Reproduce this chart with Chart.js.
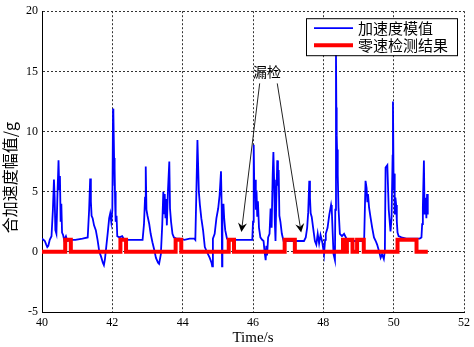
<!DOCTYPE html>
<html>
<head>
<meta charset="utf-8">
<script src="https://cdn.jsdelivr.net/npm/chart.js@4/dist/chart.umd.min.js"></script>
<style>
  body { margin: 0; background: #fff; }
  canvas { display: block; }
</style>
</head>
<body>
<canvas id="accel_chart" width="474" height="347"></canvas>
<script>
// data

const accelTime = [
  40.00, 40.04, 40.08, 40.12, 40.15, 40.18, 40.22, 40.27, 40.31, 40.34, 40.36, 40.38, 40.41, 40.44, 40.47, 40.49,
  40.51, 40.53, 40.55, 40.57, 40.60, 40.63, 40.68, 40.72, 40.80, 40.95, 41.15, 41.30, 41.34, 41.37, 41.39, 41.41,
  41.44, 41.48, 41.53, 41.58, 41.63, 41.68, 41.73, 41.76, 41.79, 41.83, 41.87, 41.91, 41.94, 41.97, 42.00, 42.02,
  42.03, 42.05, 42.06, 42.07, 42.08, 42.09, 42.10, 42.12, 42.14,
  42.20, 42.28, 42.34, 42.50, 42.70, 42.86, 42.90, 42.93, 42.95, 42.97, 43.00, 43.05, 43.09, 43.14, 43.19, 43.24,
  43.30, 43.33, 43.38, 43.42, 43.45, 43.47, 43.49, 43.51, 43.53, 43.55, 43.58, 43.62, 43.64, 43.67, 43.71, 43.75,
  43.82, 43.92, 44.05,
  44.20, 44.33, 44.36, 44.39, 44.42, 44.46, 44.49, 44.53, 44.58, 44.63, 44.72, 44.77, 44.82, 44.84, 44.86, 44.91,
  44.96, 45.01, 45.05, 45.09, 45.11, 45.12, 45.13, 45.16, 45.18, 45.21, 45.26, 45.32, 45.50, 45.70, 45.98,
  46.00, 46.02, 46.04, 46.06, 46.08, 46.10, 46.12, 46.14, 46.17, 46.21, 46.26, 46.30, 46.33, 46.36, 46.38, 46.40,
  46.43, 46.47, 46.50, 46.53, 46.56, 46.58, 46.60, 46.62, 46.64, 46.66, 46.69, 46.71, 46.73, 46.75, 46.78, 46.82,
  46.87, 47.10, 47.34, 47.45, 47.50, 47.54, 47.57, 47.60, 47.62, 47.64, 47.67, 47.71, 47.76, 47.80, 47.84, 47.88,
  47.92, 47.97, 48.02, 48.05,
  48.07, 48.12, 48.17, 48.22, 48.24, 48.26, 48.29, 48.33, 48.34, 48.36, 48.37, 48.38, 48.39, 48.41, 48.43, 48.47,
  48.53, 48.59, 48.69, 48.83, 49.00, 49.16, 49.20, 49.23, 49.25, 49.27, 49.30, 49.34, 49.39, 49.44, 49.49, 49.53,
  49.58, 49.63, 49.67, 49.72, 49.75, 49.77, 49.82, 49.86, 49.91, 49.94, 49.97, 49.98, 50.00, 50.02, 50.03, 50.05,
  50.07, 50.09, 50.11, 50.14, 50.22, 50.36, 50.60, 50.74, 50.79, 50.81, 50.83, 50.86, 50.88, 50.91, 50.93, 50.95,
  50.97
];
const accelValue = [
  1.1, 1.0, 0.9, 0.6, 0.4, 0.5, 1.0, 1.3, 3.5, 6.0, 4.5, 1.8, 1.5, 4.8, 7.6, 5.2,
  6.3, 2.5, 4.0, 1.6, 1.4, 1.0, 1.3, 0.9, 1.0, 1.0, 1.1, 1.2, 3.5, 6.1, 4.2, 3.0,
  2.8, 2.2, 1.8, 1.0, 0.0, -0.4, -0.9, -1.1, -0.6, 0.5, 1.6, 2.8, 3.2, 2.5, 3.5, 11.9,
  11.5, 7.8, 5.5, 7.0, 4.0, 5.0, 2.5, 3.0, 1.3,
  1.2, 1.3, 1.0, 1.0, 1.0, 1.0, 2.3, 4.5, 7.1, 3.5, 3.0, 2.3, 1.5, 0.8, 0.2, -0.5,
  -0.9, -1.0, -0.2, 2.3, 5.0, 3.2, 4.8, 2.8, 4.4, 2.2, 5.0, 7.5, 3.6, 2.5, 1.5, 1.2,
  1.1, 1.1, 1.0,
  1.1, 1.1, 1.0, 5.0, 9.3, 5.0, 3.9, 2.8, 1.8, 0.4, -0.2, -0.5, -0.9, -1.2, 1.1, 1.5,
  2.8, 3.6, 4.7, 6.7, 3.6, -1.2, 3.0, 4.0, 2.8, 1.8, 1.1, 1.0, 1.0, 1.0, 1.0,
  2.5, 8.9, 4.5, 6.0, 3.5, 5.1, 3.0, 4.2, 2.0, 1.2, 1.0, 0.9, 0.0, -0.7, 0.5, -0.3,
  1.2, 1.5, 3.6, 2.0, 6.4, 8.3, 6.0, 2.5, 0.9, 4.0, 7.6, 5.5, 6.8, 3.0, 2.5, 1.5,
  0.9, 0.9, 0.9, 0.9, 1.2, 2.0, 3.3, 5.9, 4.5, 3.2, 2.9, 2.0, 0.9, 0.6, 1.5, 0.7,
  1.4, 0.8, -0.2, 1.0,
  1.5, 2.0, 3.1, 3.9, 3.5, 2.0, -0.2, -0.7, 3.5, 16.5, 12.0, 9.7, 8.5, 6.4, 3.7, 1.5,
  1.3, 1.5, 0.9, 0.9, 0.9, 0.9, 5.9, 5.3, 4.2, 4.8, 3.7, 2.9, 2.0, 1.2, 0.9, 0.6,
  0.1, -0.5, -0.2, -0.6, 0.1, 7.0, 7.2, 3.5, 1.7, 2.8, 8.0, 12.5, 5.1, 6.5, 3.1, 4.5,
  3.9, 2.5, 1.6, 1.3, 1.2, 1.1, 1.1, 1.1, 1.2, 2.3, 3.7, 7.6, 3.1, 4.5, 2.8, 4.8,
  3.1
];

// zero velocity detection: value holds from this time until the next one
const zuptTime = [
  40.00, 40.66, 40.82, 42.23, 42.39, 43.80, 43.96, 45.31, 45.46, 46.90,
  47.19, 48.56, 48.65, 48.67, 48.83, 48.96, 49.15, 50.11, 50.65, 50.97
];
const zuptValue = [0, 1, 0, 1, 0, 1, 0, 1, 0, 1, 0, 1, 0, 1, 0, 1, 0, 1, 0, 0];

const xTicks = [40, 42, 44, 46, 48, 50, 52];
const yTicks = [-5, 0, 5, 10, 15, 20];

const seriesNames = ['加速度模值', '零速检测结果'];
const seriesColors = ['#0000ff', '#ff0000'];

// missed detections: label and where the arrows point
const missLabel = '漏检';
const missLabelAt = [46.40, 15.0];
const missArrowFrom = [[46.19, 14.0], [46.69, 14.0]];
const missArrowTo = [[45.67, 1.65], [47.37, 1.6]];

const serif = '"Liberation Serif", "Times New Roman", serif';
const cjk = '"Noto Sans CJK SC", "Noto Sans", sans-serif';

// y title, legend box and arrows are drawn by hand
const extrasPlugin = {
  id: 'extras',
  afterDraw(chart) {
    const c = chart.ctx;
    const area = chart.chartArea;
    const xs = chart.scales.x;
    const ys = chart.scales.y;

    // y axis title
    c.save();
    c.translate(10, (area.top + area.bottom) / 2 + 16);
    c.rotate(-Math.PI / 2);
    c.fillStyle = '#000';
    c.font = '16px ' + cjk;
    c.textAlign = 'center';
    c.textBaseline = 'middle';
    c.fillText('合加速度幅值/g', 0, 0);
    c.restore();

    // arrows
    c.save();
    c.strokeStyle = '#222';
    c.fillStyle = '#000';
    c.lineWidth = 1;
    missArrowFrom.forEach((from, i) => {
      const x0 = xs.getPixelForValue(from[0]);
      const y0 = ys.getPixelForValue(from[1]);
      const x1 = xs.getPixelForValue(missArrowTo[i][0]);
      const y1 = ys.getPixelForValue(missArrowTo[i][1]);
      const ang = Math.atan2(y1 - y0, x1 - x0);
      c.beginPath();
      c.moveTo(x0, y0);
      c.lineTo(x1 - 6 * Math.cos(ang), y1 - 6 * Math.sin(ang));
      c.stroke();
      // head
      const len = 9, wid = 4.5;
      const bx = x1 - len * Math.cos(ang), by = y1 - len * Math.sin(ang);
      const nx = -Math.sin(ang), ny = Math.cos(ang);
      c.beginPath();
      c.moveTo(x1, y1);
      c.lineTo(bx + nx * wid, by + ny * wid);
      c.lineTo(x1 - 6 * Math.cos(ang), y1 - 6 * Math.sin(ang));
      c.lineTo(bx - nx * wid, by - ny * wid);
      c.closePath();
      c.fill();
    });
    c.font = '14px ' + cjk;
    c.textAlign = 'center';
    c.textBaseline = 'middle';
    c.fillStyle = '#000';
    c.fillText(missLabel, xs.getPixelForValue(missLabelAt[0]), ys.getPixelForValue(missLabelAt[1]));
    c.restore();

    // legend
    const bw = 151, bh = 37;
    const bx = area.right - 7 - bw;
    const by = area.top + 7;
    c.save();
    c.fillStyle = '#fff';
    c.fillRect(bx, by, bw, bh);
    c.strokeStyle = '#000';
    c.lineWidth = 1;
    c.strokeRect(bx + 0.5, by + 0.5, bw, bh);
    const widths = [1.8, 4];
    seriesNames.forEach((name, i) => {
      const ry = by + 10 + i * 17;
      c.strokeStyle = seriesColors[i];
      c.lineWidth = widths[i];
      c.beginPath();
      c.moveTo(bx + 8, ry);
      c.lineTo(bx + 47, ry);
      c.stroke();
      c.fillStyle = '#000';
      c.font = '15px ' + cjk;
      c.textAlign = 'left';
      c.textBaseline = 'middle';
      c.fillText(name, bx + 52, ry);
    });
    c.restore();
  },
};

const ctx = document.getElementById('accel_chart').getContext('2d');

new Chart(ctx, {
  type: 'line',
  data: {
    datasets: [
      {
        label: seriesNames[0],
        data: accelTime.map((t, i) => ({ x: t, y: accelValue[i] })),
        borderColor: seriesColors[0],
        borderWidth: 1.8,
        pointRadius: 0,
        fill: false,
        order: 2,
      },
      {
        label: seriesNames[1],
        data: zuptTime.map((t, i) => ({ x: t, y: zuptValue[i] })),
        borderColor: seriesColors[1],
        borderWidth: 4,
        pointRadius: 0,
        stepped: true,
        fill: false,
        order: 1,
      },
    ],
  },
  options: {
    responsive: false,
    animation: false,
    devicePixelRatio: 1,
    layout: { padding: { top: 8, right: 6, left: 0, bottom: 0 } },
    plugins: {
      legend: { display: false },
      tooltip: { enabled: false },
    },
    scales: {
      x: {
        type: 'linear',
        min: 40,
        max: 52,
        afterBuildTicks: (scale) => {
          scale.ticks = xTicks.map((v) => ({ value: v }));
        },
        afterFit: (scale) => {
          scale.height = 35;
        },
        grid: {
          color: '#333',
          lineWidth: 1,
          drawTicks: false,
        },
        border: { display: true, color: '#000', width: 1, dash: [2, 2] },
        ticks: {
          padding: 4,
          maxRotation: 0,
          color: '#000',
          font: { family: serif, size: 12 },
        },
        title: {
          display: true,
          text: 'Time/s',
          color: '#000',
          padding: { top: 0, bottom: 0 },
          font: { family: serif, size: 15 },
        },
      },
      y: {
        type: 'linear',
        min: -5,
        max: 20,
        afterBuildTicks: (scale) => {
          scale.ticks = yTicks.map((v) => ({ value: v }));
        },
        afterFit: (scale) => {
          scale.width = 42;
        },
        grid: {
          color: '#333',
          lineWidth: 1,
          drawTicks: false,
        },
        border: { display: true, color: '#000', width: 1, dash: [2, 2] },
        ticks: {
          padding: 4,
          color: '#000',
          font: { family: serif, size: 12 },
        },
      },
    },
  },
  plugins: [extrasPlugin],
});
</script>
</body>
</html>
